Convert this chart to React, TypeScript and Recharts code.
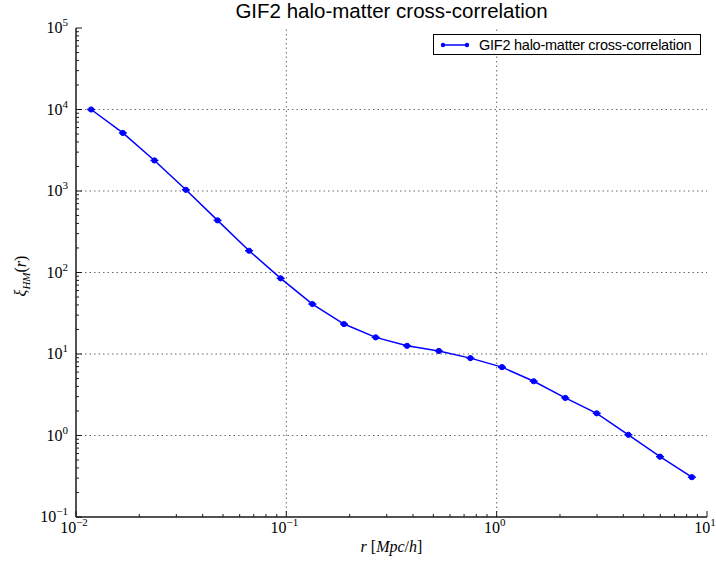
import React from "react";
import { Line, LineChart, ReferenceLine, XAxis, YAxis } from "recharts";

// separation r [Mpc/h] and xi_HM(r)
const R = [
  0.0118, 0.0167, 0.0236, 0.0333, 0.0471, 0.0665, 0.094, 0.133, 0.188, 0.266,
  0.375, 0.531, 0.75, 1.06, 1.5, 2.12, 2.99, 4.23, 5.98, 8.47,
];
const XI = [
  10000, 5160, 2370, 1035, 436, 185, 84.8, 41.0, 23.3, 16.0, 12.6, 10.9, 8.9,
  6.9, 4.63, 2.89, 1.87, 1.02, 0.55, 0.308,
];

const X_MAJOR = [0.01, 0.1, 1, 10];
const Y_MAJOR = [0.1, 1, 10, 100, 1000, 10000, 100000];
const MINOR_STEPS = [2, 3, 4, 5, 6, 7, 8, 9];

const SERIES_NAME = "GIF2 halo-matter cross-correlation";
const BLUE = "#0000ff";
const SPINE = "#1a1a1a";
const SERIF = "'Liberation Serif', 'DejaVu Serif', serif";
const SANS = "'Liberation Sans', Arial, sans-serif";

const withMinor = (majors: number[]) => {
  const out: number[] = [];
  majors.forEach((m, i) => {
    out.push(m);
    if (i < majors.length - 1) MINOR_STEPS.forEach((s) => out.push(m * s));
  });
  return out;
};
const X_TICKS = withMinor(X_MAJOR);
const Y_TICKS = withMinor(Y_MAJOR);

const data = R.map((r, i) => ({ r, xi: XI[i] }));

const isMajor = (v: number) => {
  const l = Math.log10(v);
  return Math.abs(l - Math.round(l)) < 1e-6;
};
const expOf = (v: number) => {
  const e = Math.round(Math.log10(v));
  return e < 0 ? `\u2212${-e}` : `${e}`;
};

function PowLabel({ x, y, v, anchor }: any) {
  return (
    <text
      x={x}
      y={y}
      textAnchor={anchor}
      fontFamily={SERIF}
      fontSize={16}
      fill="#000"
    >
      10
      <tspan dy={-7} fontSize={11}>
        {expOf(v)}
      </tspan>
    </text>
  );
}

function XTick(props: any) {
  const { x, y, payload, side } = props;
  const v = payload.value;
  const major = isMajor(v);
  const len = major ? 6 : 3;
  const dir = side === "bottom" ? -1 : 1;
  return (
    <g>
      <line x1={x} x2={x} y1={y} y2={y + dir * len} stroke={SPINE} strokeWidth={1} />
      {major && side === "bottom" && (
        <PowLabel x={x - 2} y={y + 16} v={v} anchor="middle" />
      )}
    </g>
  );
}

function YTick(props: any) {
  const { x, y, payload, side } = props;
  const v = payload.value;
  const major = isMajor(v);
  const len = major ? 6 : 3;
  const dir = side === "left" ? 1 : -1;
  return (
    <g>
      <line x1={x} x2={x + dir * len} y1={y} y2={y} stroke={SPINE} strokeWidth={1} />
      {major && side === "left" && (
        <PowLabel x={x - 8} y={y + 5} v={v} anchor="end" />
      )}
    </g>
  );
}

function ErrDot(props: any) {
  const { cx, cy } = props;
  if (cx == null || cy == null) return null;
  return (
    <g>
      <line x1={cx - 4} x2={cx + 4} y1={cy} y2={cy} stroke={BLUE} strokeWidth={1.5} />
      <circle cx={cx} cy={cy} r={2.6} fill={BLUE} stroke={BLUE} />
    </g>
  );
}

function LegendBox() {
  return (
    <div
      style={{
        position: "absolute",
        left: 433,
        top: 34,
        border: "1px solid #000",
        background: "#fff",
        height: 19,
        width: 266,
        display: "flex",
        alignItems: "center",
      }}
    >
      <svg width={45} height={19} style={{ flex: "none" }}>
        <line x1={9} x2={33} y1={10} y2={10} stroke={BLUE} strokeWidth={1.5} />
        <circle cx={9} cy={10} r={2.2} fill={BLUE} />
        <circle cx={33} cy={10} r={2.2} fill={BLUE} />
      </svg>
      <span
        style={{
          fontFamily: SANS,
          fontSize: 14.5,
          color: "#000",
          whiteSpace: "nowrap",
          letterSpacing: -0.25,
        }}
      >
        {SERIES_NAME}
      </span>
    </div>
  );
}

export default function App() {
  return (
    <div
      style={{
        position: "absolute",
        left: 0,
        top: 0,
        width: 716,
        height: 564,
        background: "#fff",
        overflow: "hidden",
      }}
    >
      <div
        style={{
          position: "absolute",
          left: 76,
          width: 631,
          top: -1,
          textAlign: "center",
          fontFamily: SANS,
          fontSize: 20.5,
          color: "#000",
        }}
      >
        {SERIES_NAME}
      </div>

      <LineChart
        width={716}
        height={564}
        data={data}
        margin={{ top: 28, right: 9, bottom: 0, left: 0 }}
      >
        <XAxis
          dataKey="r"
          type="number"
          scale="log"
          domain={[0.01, 10]}
          allowDataOverflow
          ticks={X_TICKS}
          interval={0}
          tickSize={0}
          tickMargin={0}
          tickLine={false}
          tick={<XTick side="bottom" />}
          axisLine={{ stroke: SPINE, strokeWidth: 1.5 }}
          height={47}
        />
        <XAxis
          xAxisId="top"
          orientation="top"
          type="number"
          scale="log"
          domain={[0.01, 10]}
          allowDataOverflow
          ticks={X_TICKS}
          interval={0}
          tickSize={0}
          tickMargin={0}
          tickLine={false}
          tick={<XTick side="top" />}
          axisLine={{ stroke: SPINE, strokeWidth: 1.5 }}
          height={0}
        />
        <YAxis
          dataKey="xi"
          type="number"
          scale="log"
          domain={[0.1, 100000]}
          allowDataOverflow
          ticks={Y_TICKS}
          interval={0}
          tickSize={0}
          tickMargin={0}
          tickLine={false}
          tick={<YTick side="left" />}
          axisLine={{ stroke: SPINE, strokeWidth: 1.5 }}
          width={76}
        />
        <YAxis
          yAxisId="right"
          orientation="right"
          type="number"
          scale="log"
          domain={[0.1, 100000]}
          allowDataOverflow
          ticks={Y_TICKS}
          interval={0}
          tickSize={0}
          tickMargin={0}
          tickLine={false}
          tick={<YTick side="right" />}
          axisLine={{ stroke: SPINE, strokeWidth: 1.5 }}
          width={0}
        />
        {X_MAJOR.slice(1, -1).map((v) => (
          <ReferenceLine
            key={`gx${v}`}
            x={v}
            stroke="#444"
            strokeWidth={0.8}
            strokeDasharray="1.5 3"
          />
        ))}
        {Y_MAJOR.slice(1, -1).map((v) => (
          <ReferenceLine
            key={`gy${v}`}
            y={v}
            stroke="#444"
            strokeWidth={0.8}
            strokeDasharray="1.5 3"
          />
        ))}
        <Line
          dataKey="xi"
          name={SERIES_NAME}
          stroke={BLUE}
          strokeWidth={1.5}
          dot={<ErrDot />}
          activeDot={false}
          isAnimationActive={false}
        />
      </LineChart>

      <LegendBox />

      <div
        style={{
          position: "absolute",
          left: 76,
          width: 631,
          top: 538,
          textAlign: "center",
          fontFamily: SERIF,
          fontSize: 16,
          color: "#000",
        }}
      >
        <i>r</i>
        <span> [</span>
        <i>Mpc</i>/<i>h</i>]
      </div>

      <div
        style={{
          position: "absolute",
          left: 22,
          top: 276,
          transform: "translate(-50%, -50%) rotate(-90deg)",
          fontFamily: SERIF,
          fontSize: 16,
          color: "#000",
          whiteSpace: "nowrap",
        }}
      >
        <i>ξ</i>
        <sub style={{ fontSize: 11 }}>
          <i>HM</i>
        </sub>
        (<i>r</i>)
      </div>
    </div>
  );
}
